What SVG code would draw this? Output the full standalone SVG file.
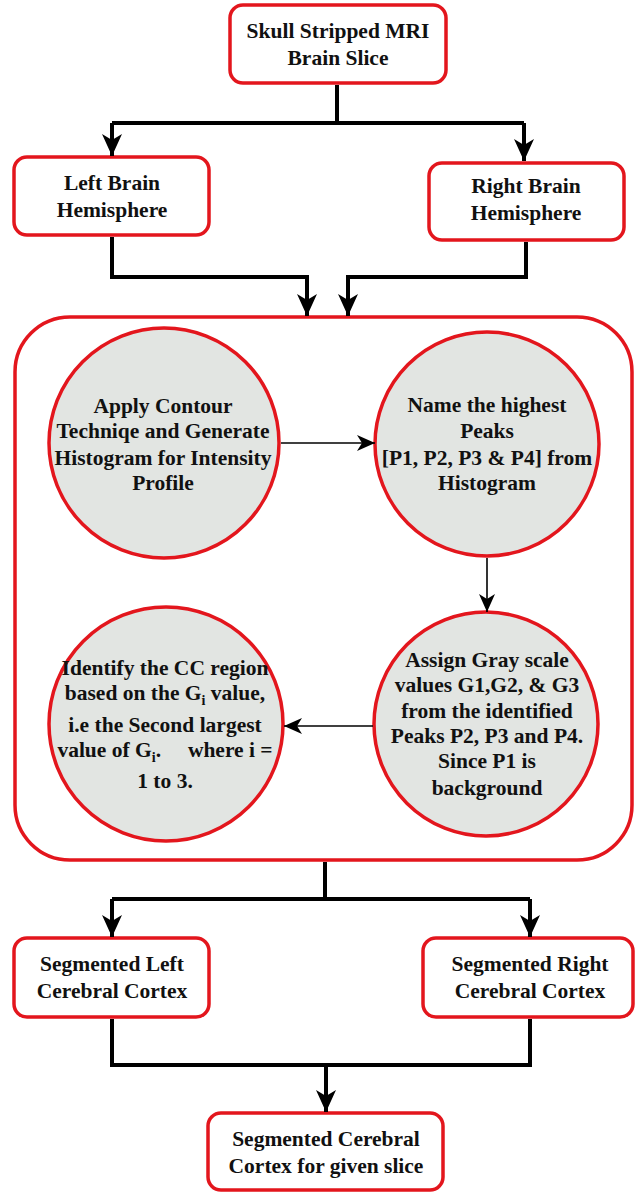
<svg xmlns="http://www.w3.org/2000/svg" width="637" height="1193" viewBox="0 0 637 1193">
<defs>
<style>
.box{fill:#fff;stroke:#e3161d;stroke-width:3.5}
.circ{fill:#e2e5e2;stroke:#e3161d;stroke-width:3.5}
.t{font-family:"Liberation Serif","Times New Roman",serif;font-weight:bold;font-size:21.5px;fill:#111;text-anchor:middle}
.thick{fill:none;stroke:#000;stroke-width:4}
.thin{fill:none;stroke:#000;stroke-width:1.6}
</style>
<marker id="ah" refX="18" refY="8" markerWidth="18" markerHeight="16" markerUnits="userSpaceOnUse" orient="auto" overflow="visible">
<path d="M0,0 L18,8 L0,16 L5,8 Z" fill="#000"/>
</marker>
<marker id="ahs" refX="22" refY="10" markerWidth="22" markerHeight="20" markerUnits="userSpaceOnUse" orient="auto" overflow="visible">
<path d="M0,0 L22,10 L0,20 L6,10 Z" fill="#000"/>
</marker>
</defs>
<g id="n-skull">
<rect class="box" x="230" y="5" width="216" height="78" rx="13"/>
<text class="t" x="338" y="38">Skull Stripped MRI</text>
<text class="t" x="338" y="65">Brain Slice</text>
</g>
<g id="n-left">
<rect class="box" x="14" y="157" width="195" height="78" rx="13"/>
<text class="t" x="112" y="190">Left Brain</text>
<text class="t" x="112" y="217">Hemisphere</text>
</g>
<g id="n-right">
<rect class="box" x="429" y="163" width="195" height="77" rx="13"/>
<text class="t" x="526" y="193">Right Brain</text>
<text class="t" x="526" y="220">Hemisphere</text>
</g>
<g id="n-container">
<rect class="box" x="15" y="317" width="617" height="543" rx="55"/>
</g>
<g id="n-contour">
<circle class="circ" cx="164" cy="443" r="115"/>
<text class="t" x="163" y="413">Apply Contour</text>
<text class="t" x="163" y="438">Techniqe and Generate</text>
<text class="t" x="163" y="465">Histogram for Intensity</text>
<text class="t" x="163" y="490">Profile</text>
</g>
<g id="n-peaks">
<circle class="circ" cx="487" cy="444" r="112"/>
<text class="t" x="487" y="412">Name the highest</text>
<text class="t" x="487" y="438">Peaks</text>
<text class="t" x="487" y="465">[P1, P2, P3 &amp; P4] from</text>
<text class="t" x="487" y="490">Histogram</text>
</g>
<g id="n-assign">
<circle class="circ" cx="486" cy="724" r="112"/>
<text class="t" x="487" y="667">Assign Gray scale</text>
<text class="t" x="487" y="692">values G1,G2, &amp; G3</text>
<text class="t" x="487" y="718">from the identified</text>
<text class="t" x="487" y="743">Peaks P2, P3 and P4.</text>
<text class="t" x="487" y="768">Since P1 is</text>
<text class="t" x="487" y="795">background</text>
</g>
<g id="n-identify">
<circle class="circ" cx="166" cy="724" r="117"/>
<text class="t" x="165" y="675">Identify the CC region</text>
<text class="t" x="165" y="700">based on the G<tspan font-size="14" dy="5">i</tspan><tspan dy="-5"> value,</tspan></text>
<text class="t" x="165" y="732">i.e the Second largest</text>
<text class="t" x="165" y="757" style="white-space:pre">value of G<tspan font-size="14" dy="5">i</tspan><tspan dy="-5">.     where i =</tspan></text>
<text class="t" x="165" y="788">1 to 3.</text>
</g>
<g id="n-segleft">
<rect class="box" x="14" y="938" width="195" height="79" rx="13"/>
<text class="t" x="112" y="971">Segmented Left</text>
<text class="t" x="112" y="998">Cerebral Cortex</text>
</g>
<g id="n-segright">
<rect class="box" x="423" y="938" width="210" height="79" rx="13"/>
<text class="t" x="530" y="971">Segmented Right</text>
<text class="t" x="530" y="998">Cerebral Cortex</text>
</g>
<g id="n-final">
<rect class="box" x="208" y="1113" width="235" height="77" rx="13"/>
<text class="t" x="326" y="1146">Segmented Cerebral</text>
<text class="t" x="326" y="1173">Cortex for given slice</text>
</g>
<g id="connectors">
<path class="thick" d="M337,85 V123"/>
<path class="thick" d="M112,123 H524"/>
<path class="thick" d="M112,123 V156" marker-end="url(#ahs)"/>
<path class="thick" d="M524,123 V161" marker-end="url(#ahs)"/>
<path class="thick" d="M112,237 V277 H307 V316" marker-end="url(#ahs)"/>
<path class="thick" d="M526,242 V277 H348 V316" marker-end="url(#ahs)"/>
<path class="thin" d="M281,443 H375" marker-end="url(#ah)"/>
<path class="thin" d="M487,558 V612" marker-end="url(#ah)"/>
<path class="thin" d="M373,726 H284" marker-end="url(#ah)"/>
<path class="thick" d="M325,862 V899"/>
<path class="thick" d="M112,899 H530"/>
<path class="thick" d="M112,899 V937" marker-end="url(#ahs)"/>
<path class="thick" d="M530,899 V937" marker-end="url(#ahs)"/>
<path class="thick" d="M112,1019 V1065 H530 V1019"/>
<path class="thick" d="M326,1065 V1112" marker-end="url(#ahs)"/>
</g>
</svg>
